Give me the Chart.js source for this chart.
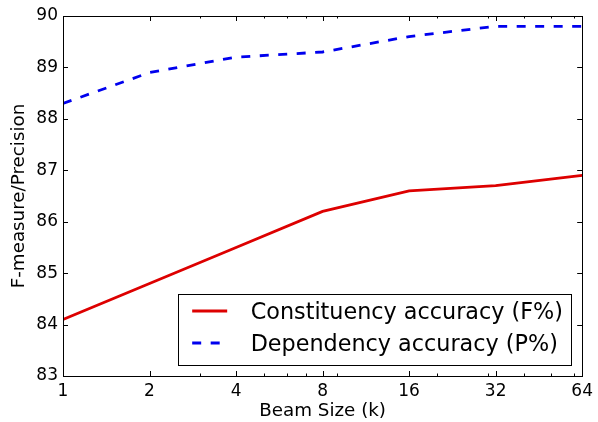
<!DOCTYPE html>
<html>
<head>
<meta charset="utf-8">
<script src="https://cdn.jsdelivr.net/npm/chart.js@4.4.0/dist/chart.umd.min.js"></script>
<style>
  html, body { margin: 0; padding: 0; background: #fff; }
  #wrap { width: 598px; height: 422px; }
</style>
</head>
<body>
<div id="wrap"><canvas id="beam_chart"></canvas></div>
<script>
// beam sizes (log scale, base 2 labels)
var beamSizes = [1, 2, 4, 8, 16, 32, 64];
var constituencyF = [84.1, 84.8, 85.5, 86.2, 86.6, 86.7, 86.9];
var dependencyP = [88.3, 88.9, 89.2, 89.3, 89.6, 89.8, 89.8];
var xMajorTicks = [1, 2, 4, 8, 16, 32, 64];
var xMinorTicks = [3, 5, 6, 7, 9, 20, 30, 40, 50, 60];
var yTicks = [83, 84, 85, 86, 87, 88, 89, 90];

var FONT = "'DejaVu Sans', sans-serif";

function toPoints(ys){
    return beamSizes.map(function(k, i){ return {x: k, y: ys[i]}; });
}

// frame + inward ticks on all four sides, like the matplotlib original
var frameTicks = {
    id: 'frameTicks',
    afterDatasetsDraw: function(chart){
        var ctx = chart.ctx, a = chart.chartArea;
        var xs = chart.scales.x, ys = chart.scales.y;
        ctx.save();
        ctx.strokeStyle = '#000';
        ctx.lineWidth = 1;
        ctx.beginPath();
        xMajorTicks.forEach(function(v){
            var px = Math.round(xs.getPixelForValue(v)) + 0.5;
            ctx.moveTo(px, a.bottom); ctx.lineTo(px, a.bottom - 5);
            ctx.moveTo(px, a.top); ctx.lineTo(px, a.top + 5);
        });
        xMinorTicks.forEach(function(v){
            var px = Math.round(xs.getPixelForValue(v)) + 0.5;
            ctx.moveTo(px, a.bottom); ctx.lineTo(px, a.bottom - 2.5);
            ctx.moveTo(px, a.top); ctx.lineTo(px, a.top + 2.5);
        });
        yTicks.forEach(function(v){
            var py = Math.round(ys.getPixelForValue(v)) + 0.5;
            ctx.moveTo(a.left, py); ctx.lineTo(a.left + 5, py);
            ctx.moveTo(a.right, py); ctx.lineTo(a.right - 5, py);
        });
        ctx.stroke();
        ctx.strokeRect(Math.round(a.left) + 0.5, Math.round(a.top) + 0.5,
                       Math.round(a.right - a.left), Math.round(a.bottom - a.top));
        ctx.restore();
    }
};

// legend box in the lower right of the plot
var boxLegend = {
    id: 'boxLegend',
    afterDraw: function(chart){
        var ctx = chart.ctx, a = chart.chartArea;
        var right = a.right - 11, bottom = a.bottom - 12;
        var left = right - 393, top = bottom - 70.5;
        ctx.save();
        ctx.fillStyle = '#fff';
        ctx.fillRect(left, top, right - left, bottom - top);
        ctx.strokeStyle = '#000';
        ctx.lineWidth = 1;
        ctx.strokeRect(Math.round(left) + 0.5, Math.round(top) + 0.5, Math.round(right - left), Math.round(bottom - top));
        chart.data.datasets.forEach(function(ds, i){
            var cy = top + 17.5 + i * 32;
            ctx.beginPath();
            ctx.setLineDash(ds.borderDash || []);
            ctx.lineWidth = ds.borderWidth;
            ctx.strokeStyle = ds.borderColor;
            ctx.moveTo(left + 14, cy);
            ctx.lineTo(left + 49, cy);
            ctx.stroke();
            ctx.setLineDash([]);
            ctx.fillStyle = '#000';
            ctx.font = '22.3px ' + FONT;
            ctx.textBaseline = 'alphabetic';
            ctx.fillText(ds.label, left + 72.5, cy + 7.5);
        });
        ctx.restore();
    }
};

var ctx = document.getElementById('beam_chart').getContext('2d');
var beam_chart = new Chart(ctx, {
    type: 'line',
    data: {
        datasets: [{
            label: 'Constituency accuracy (F%)',
            data: toPoints(constituencyF),
            borderColor: '#dd0000',
            borderWidth: 2.8,
            pointRadius: 0,
            tension: 0,
            fill: false,
        },{
            label: 'Dependency accuracy (P%)',
            data: toPoints(dependencyP),
            borderColor: '#0000ee',
            borderWidth: 2.8,
            borderDash: [9, 9.5],
            borderCapStyle: 'butt',
            pointRadius: 0,
            tension: 0,
            fill: false,
        }]
    },
    options: {
        responsive: true,
        maintainAspectRatio: false,
        animation: false,
        events: [],
        layout: { padding: { top: 16, right: 13, left: 0, bottom: 0 } },
        plugins: {
            legend: { display: false },
            tooltip: { enabled: false },
        },
        scales: {
            x: {
                type: 'logarithmic',
                min: 1,
                max: 64,
                afterBuildTicks: function(scale){
                    scale.ticks = xMajorTicks.map(function(v){ return {value: v}; });
                },
                afterFit: function(scale){ scale.height = 46; },
                grid: { display: false, drawTicks: false },
                border: { display: false },
                ticks: {
                    autoSkip: false,
                    maxRotation: 0,
                    padding: 5,
                    color: '#000',
                    font: { family: FONT, size: 17 },
                    callback: function(v){ return String(v); },
                },
                title: {
                    display: true,
                    text: 'Beam Size (k)',
                    color: '#000',
                    font: { family: FONT, size: 18.3 },
                    padding: { top: 0, bottom: 0 },
                },
            },
            y: {
                min: 83,
                max: 90,
                afterBuildTicks: function(scale){
                    scale.ticks = yTicks.map(function(v){ return {value: v}; });
                },
                afterFit: function(scale){ scale.width = 63; },
                grid: { display: false, drawTicks: false },
                border: { display: false },
                ticks: {
                    padding: 5,
                    color: '#000',
                    font: { family: FONT, size: 17 },
                },
                title: {
                    display: true,
                    text: 'F-measure/Precision',
                    color: '#000',
                    font: { family: FONT, size: 18.3 },
                    padding: { top: 8, bottom: 0 },
                },
            },
        },
    },
    plugins: [frameTicks, boxLegend],
});
</script>
</body>
</html>
